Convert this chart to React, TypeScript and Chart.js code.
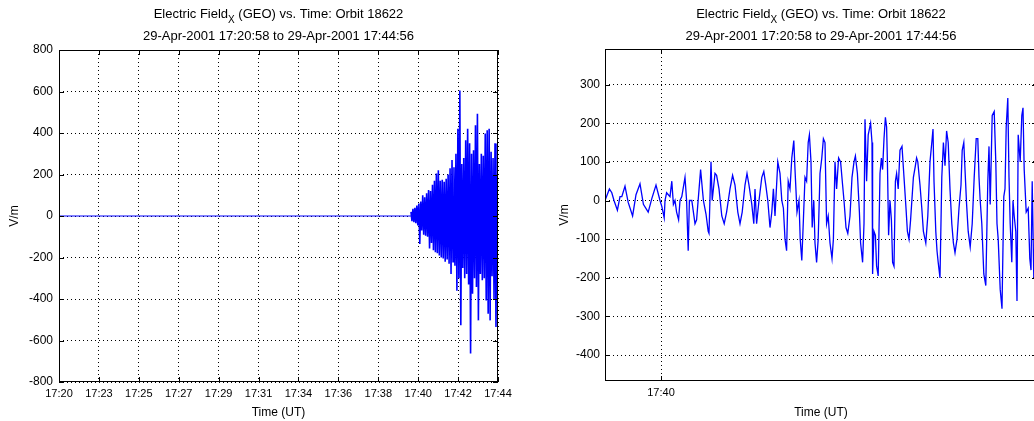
import React, { useEffect, useRef } from "react";
import { Chart, registerables } from "chart.js";

Chart.register(...registerables);

const FONT = "'Liberation Sans', Arial, Helvetica, sans-serif";
const LINE_BLUE = "#0000ff";

// ---------- Titles ----------
const titleMain = "Electric Field";
const titleSub = "X";
const titleRest = " (GEO) vs. Time: Orbit 18622";
const titleLine2 = "29-Apr-2001 17:20:58 to 29-Apr-2001 17:44:56";
const xAxisTitle = "Time (UT)";
const yAxisTitle = "V/m";

// ---------- Left panel (full orbit segment) ----------
// time in seconds after 17:20:58; span ends at 17:44:56
const leftSpanSeconds = 1438;
const leftTickLabels = [
  "17:20", "17:23", "17:25", "17:27", "17:29", "17:31",
  "17:34", "17:36", "17:38", "17:40", "17:42", "17:44",
];
const leftYTicks = [-800, -600, -400, -200, 0, 200, 400, 600, 800];
const leftFlatTimes = [0, 1153];
const leftFlatValues = [0, 0];
const leftBurstStart = 1153;
const leftBurstStep = 3.2;
const leftBurstValues = [
  20, -25, 35, -30, 40, -35, 50, -45, 60, -135,
  70, -70, 100, -90, 90, -95, 110, -100, 125, -157,
  120, -130, 150, -165, 170, -175, 205, -180, 220, -190,
  170, -200, 175, -205, 165, -220, 180, -210, 200, -230,
  230, -280, 270, -220, 235, -240, 300, -360, 420, -300,
  605, -527, 250, -250, 280, -300, 365, -280, 420, -330,
  350, -663, 300, -375, 317, -300, 437, -342, 493, -503,
  250, -280, 300, -310, 290, -300, 397, -407, 413, -471,
  420, -503, 310, -290, 280, -400, 350, -535, 200, -300,
];

// ---------- Right panel (zoom) ----------
// time in seconds after 17:39:46
const rightMin = 0;
const rightMax = 108;
const rightXTicks = [14];
const rightXTickLabels = ["17:40"];
const rightYMin = -467;
const rightYMax = 392;
const rightYTicks = [-400, -300, -200, -100, 0, 100, 200, 300];
const rightTimes = [
  0, 1.1, 1.7, 2.25, 3.1, 3.75, 4.2, 5.0, 5.8, 6.9,
  7.75, 8.75, 9.6, 10.8, 11.7, 12.75, 13.75, 14.2, 14.8, 15.0,
  15.4, 16.25, 16.7, 17.1, 17.5, 17.9, 18.4, 18.75, 19.2, 20.0,
  20.4, 20.8, 21.1, 21.7, 22.5, 22.9, 23.9, 24.6, 25.25, 25.8,
  26.0, 26.5, 26.8, 27.5, 27.9, 28.5, 29.2, 29.8, 30.4, 31.25,
  31.9, 32.5, 33.2, 33.75, 34.3, 35.0, 35.5, 36.0, 36.7, 37.2,
  37.5, 37.9, 38.5, 39.2, 39.7, 40.2, 40.7, 41.25, 41.7, 42.1,
  42.5, 43.2, 43.75, 44.2, 44.6, 45.0, 45.4, 45.8, 46.25, 46.7,
  47.2, 47.5, 48.0, 48.5, 48.8, 49.2, 49.6, 50.0, 50.4, 50.8,
  51.1, 51.5, 51.8, 52.2, 52.5, 52.9, 53.3, 53.75, 54.2, 54.6,
  55.0, 55.4, 55.8, 56.25, 56.75, 57.1, 57.5, 57.9, 58.4, 58.9,
  59.4, 59.75, 60.25, 60.7, 61.25, 61.75, 62.25, 62.6, 63.1, 63.6,
  63.9, 64.4, 64.75, 65.0, 65.4, 65.8, 66.4, 66.75, 66.9, 67.25,
  67.6, 67.9, 68.3, 68.75, 69.1, 69.4, 69.75, 70.1, 70.4, 70.6,
  70.9, 71.25, 71.6, 71.9, 72.25, 72.6, 72.9, 73.3, 73.75, 74.25,
  74.75, 75.25, 75.6, 76.0, 76.4, 77.1, 77.6, 77.9, 78.2, 78.75,
  79.2, 79.6, 80.2, 80.7, 81.25, 81.7, 82.0, 82.25, 82.7, 83.0,
  83.3, 83.75, 84.2, 84.6, 85.0, 85.4, 85.8, 86.25, 86.7, 87.1,
  87.5, 88.0, 88.5, 89.0, 89.3, 89.7, 90.0, 90.4, 90.8, 91.3,
  91.8, 92.3, 92.8, 93.2, 93.5, 93.8, 94.2, 94.7, 95.2, 95.7,
  96.0, 96.3, 96.8, 97.3, 97.7, 98.0, 98.3, 98.8, 99.25, 99.7,
  100.0, 100.3, 100.7, 101.0, 101.3, 101.7, 102.0, 102.3, 102.7, 103.0,
  103.3, 103.8, 104.2, 104.5, 104.8, 105.3, 105.8, 106.2, 106.5, 106.8,
  107.2, 107.7, 108.0,
];
const rightValues = [
  0, 30, 20, 0, -25, 10, 10, 37, -5, -40,
  15, 43, -10, -30, 5, 40, 0, -15, -45, 0,
  20, 10, 50, -10, 0, -30, -50, 0, 10, 60,
  0, -130, 0, 0, -60, -50, 80, 0, -35, -80,
  -85, 100, 0, 70, 65, 30, -40, -60, -30, 30,
  65, 40, -30, -60, -30, 40, 70, 40, -10, -60,
  30, -60, 0, 60, 75, 40, 0, -70, -30, 30,
  -40, 100, 70, 0, -20, -100, -130, 50, 30, 110,
  155, 80, -30, 0, -100, -155, -50, 60, 50, 150,
  170, 100, -70, 0, -110, -160, -100, 70, 110, 160,
  150, -60, -40, -110, -150, -100, 100, 30, 110, 100,
  40, 0, -70, -85, -40, 60, 100, 115, 70, -30,
  -110, -160, -60, 210, 50, 170, 200, 150, -190, -80,
  -90, -170, -195, 70, 110, 80, 160, 215, 190, 100,
  -90, 0, -50, -160, -170, 50, 70, 30, 130, 140,
  60, -20, -80, -100, -50, 60, 90, 110, 100, 40,
  -20, -80, -110, -40, 100, 150, 185, 50, -80, -130,
  -160, -200, 60, 150, 90, 180, 150, 30, -60, -110,
  -135, -100, -20, 40, 130, 150, 80, -10, -80, -120,
  -60, 60, 160, 160, 60, 0, -60, -190, -220, 50,
  140, -10, 220, 230, 100, -60, -100, -230, -280, 10,
  30, 190, 265, 60, -60, -160, 0, -40, -80, -260,
  170, 100, 220, 240, 80, -30, -20, -150, -180, 50,
  -200, -120, -50,
];

type PanelText = {
  titleCx: number;
  yTitleX: number;
  xTitleY: number;
};

function drawTitle(ctx: CanvasRenderingContext2D, cx: number) {
  ctx.fillStyle = "#000";
  ctx.textBaseline = "alphabetic";
  ctx.textAlign = "left";
  const big = `13px ${FONT}`;
  const small = `10px ${FONT}`;
  ctx.font = big;
  const w1 = ctx.measureText(titleMain).width;
  const w3 = ctx.measureText(titleRest).width;
  ctx.font = small;
  const w2 = ctx.measureText(titleSub).width;
  let x = cx - (w1 + w2 + w3) / 2;
  ctx.font = big;
  ctx.fillText(titleMain, x, 18);
  x += w1;
  ctx.font = small;
  ctx.fillText(titleSub, x, 23);
  x += w2;
  ctx.font = big;
  ctx.fillText(titleRest, x, 18);
  ctx.textAlign = "center";
  ctx.fillText(titleLine2, cx, 40);
}

function makeFramePlugin(txt: PanelText) {
  return {
    id: "matlabFrame",
    afterDraw(chart: any) {
      const { ctx, chartArea: a, scales } = chart;
      ctx.save();
      ctx.setLineDash([]);
      ctx.strokeStyle = "#000";
      ctx.lineWidth = 1;
      // inward ticks
      const len = 5;
      ctx.beginPath();
      for (const t of scales.x.ticks) {
        const px = Math.round(scales.x.getPixelForValue(t.value)) + 0.5;
        ctx.moveTo(px, a.bottom);
        ctx.lineTo(px, a.bottom - len);
        ctx.moveTo(px, a.top);
        ctx.lineTo(px, a.top + len);
      }
      for (const t of scales.y.ticks) {
        const py = Math.round(scales.y.getPixelForValue(t.value)) + 0.5;
        ctx.moveTo(a.left, py);
        ctx.lineTo(a.left + len, py);
        ctx.moveTo(a.right, py);
        ctx.lineTo(a.right - len, py);
      }
      ctx.stroke();
      // box
      ctx.strokeRect(a.left + 0.5, a.top + 0.5, a.right - a.left - 1, a.bottom - a.top - 1);

      // texts
      drawTitle(ctx, txt.titleCx);
      ctx.fillStyle = "#000";
      ctx.font = `12px ${FONT}`;
      ctx.textAlign = "center";
      ctx.textBaseline = "middle";
      ctx.fillText(xAxisTitle, (a.left + a.right) / 2, txt.xTitleY);
      ctx.save();
      ctx.translate(txt.yTitleX, (a.top + a.bottom) / 2);
      ctx.rotate(-Math.PI / 2);
      ctx.fillText(yAxisTitle, 0, 0);
      ctx.restore();
      ctx.restore();
    },
  };
}

type Series = { data: { x: number; y: number }[]; width: number };

type PanelCfg = {
  series: Series[];
  xMin: number;
  xMax: number;
  xTicks: number[];
  xLabels: string[];
  yMin: number;
  yMax: number;
  yTicks: number[];
  padTop: number;
  padRight: number;
  yAxisWidth: number;
  xAxisHeight: number;
  yLabelPad: number;
  txt: PanelText;
};

function buildChart(canvas: HTMLCanvasElement, cfg: PanelCfg) {
  const gridCommon = {
    color: "#000",
    lineWidth: 1,
    drawTicks: false,
  };
  return new Chart(canvas, {
    type: "line",
    data: {
      datasets: cfg.series.map((s) => ({
        data: s.data,
        borderColor: LINE_BLUE,
        borderWidth: s.width,
        pointRadius: 0,
        tension: 0,
        fill: false,
      })),
    },
    options: {
      responsive: false,
      animation: false,
      events: [],
      layout: { padding: { top: cfg.padTop, right: cfg.padRight, left: 0, bottom: 0 } },
      plugins: { legend: { display: false }, tooltip: { enabled: false }, title: { display: false } },
      scales: {
        x: {
          type: "linear",
          min: cfg.xMin,
          max: cfg.xMax,
          afterFit: (s: any) => {
            s.height = cfg.xAxisHeight;
          },
          afterBuildTicks: (s: any) => {
            s.ticks = cfg.xTicks.map((v) => ({ value: v }));
          },
          ticks: {
            callback: (_v: any, i: number) => cfg.xLabels[i],
            maxRotation: 0,
            minRotation: 0,
            autoSkip: false,
            padding: 5,
            color: "#000",
            font: { family: FONT, size: 11 },
          },
          grid: gridCommon,
          border: { display: false, dash: [1, 3] },
        },
        y: {
          type: "linear",
          min: cfg.yMin,
          max: cfg.yMax,
          afterFit: (s: any) => {
            s.width = cfg.yAxisWidth;
          },
          afterBuildTicks: (s: any) => {
            s.ticks = cfg.yTicks.map((v) => ({ value: v }));
          },
          ticks: {
            callback: (v: any) => String(v),
            padding: cfg.yLabelPad,
            color: "#000",
            font: { family: FONT, size: 12 },
          },
          grid: gridCommon,
          border: { display: false, dash: [1, 3] },
        },
      },
    } as any,
    plugins: [makeFramePlugin(cfg.txt)],
  });
}

export default function App() {
  const leftRef = useRef<HTMLCanvasElement | null>(null);
  const rightRef = useRef<HTMLCanvasElement | null>(null);

  useEffect(() => {
    const leftFlat = leftFlatTimes.map((t, i) => ({ x: t, y: leftFlatValues[i] }));
    const leftBurst = leftBurstValues.map((v, i) => ({ x: leftBurstStart + i * leftBurstStep, y: v }));
    const leftTicks = leftTickLabels.map((_, i) => (i * leftSpanSeconds) / (leftTickLabels.length - 1));
    const rightData = rightTimes.map((t, i) => ({ x: t, y: rightValues[i] }));

    const c1 = buildChart(leftRef.current!, {
      series: [
        { data: leftFlat, width: 1 },
        { data: leftBurst, width: 1.6 },
      ],
      xMin: 0,
      xMax: leftSpanSeconds,
      xTicks: leftTicks,
      xLabels: leftTickLabels,
      yMin: -800,
      yMax: 800,
      yTicks: leftYTicks,
      padTop: 50,
      padRight: 22,
      yAxisWidth: 59,
      xAxisHeight: 39,
      yLabelPad: 6,
      txt: { titleCx: 278.5, yTitleX: 15, xTitleY: 413 },
    });
    const c2 = buildChart(rightRef.current!, {
      series: [{ data: rightData, width: 1.3 }],
      xMin: rightMin,
      xMax: rightMax,
      xTicks: rightXTicks,
      xLabels: rightXTickLabels,
      yMin: rightYMin,
      yMax: rightYMax,
      yTicks: rightYTicks,
      padTop: 49,
      padRight: 23,
      yAxisWidth: 85,
      xAxisHeight: 40,
      yLabelPad: 5,
      txt: { titleCx: 301, yTitleX: 45, xTitleY: 413 },
    });
    return () => {
      c1.destroy();
      c2.destroy();
    };
  }, []);

  return (
    <div
      style={{
        position: "fixed",
        left: 0,
        top: 0,
        width: 1034,
        height: 421,
        overflow: "hidden",
        background: "#fff",
      }}
    >
      <canvas
        ref={leftRef}
        width={520}
        height={421}
        style={{ position: "absolute", left: 0, top: 0, width: 520, height: 421, display: "block" }}
      />
      <canvas
        ref={rightRef}
        width={540}
        height={421}
        style={{ position: "absolute", left: 520, top: 0, width: 540, height: 421, display: "block" }}
      />
    </div>
  );
}
